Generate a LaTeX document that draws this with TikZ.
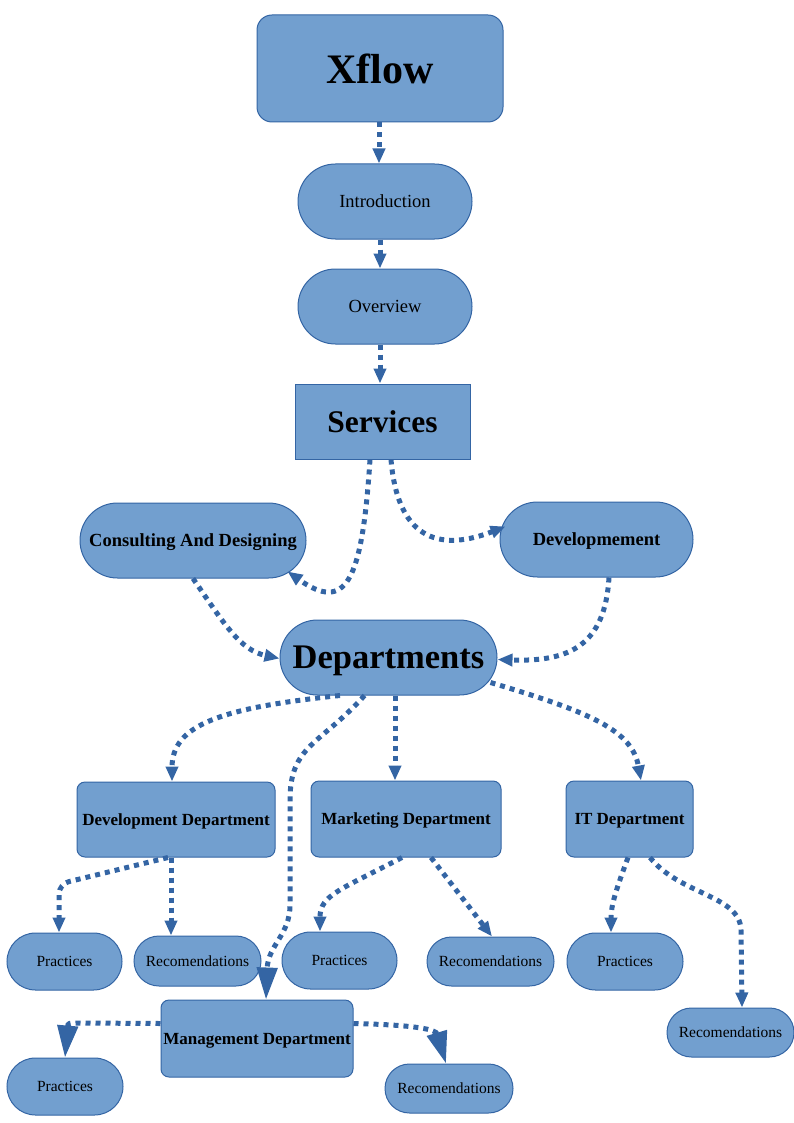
\documentclass[tikz,border=0pt]{standalone}
\usepackage{fontspec}
\setmainfont{Liberation Serif}
\usetikzlibrary{arrows.meta,shapes.misc,calc}
\definecolor{nfill}{HTML}{729FCF}
\definecolor{nline}{HTML}{3465A4}
\newcommand{\fs}[1]{\fontsize{#1}{#1}\selectfont}
\tikzset{
  base/.style={draw=nline, fill=nfill, line width=1pt, inner sep=0pt, text=black, text depth=0pt},
  stad/.style={base, rounded rectangle},
  rbox/.style={base, rectangle, rounded corners=8pt},
  sbox/.style={base, rectangle},
  arr/.style={draw=nline, line width=5pt, dash pattern=on 5pt off 5pt, line cap=butt,
              -{Triangle[length=15pt,width=12pt]}},
  bigarr/.style={arr, -{Triangle[length=32pt,width=20pt]}},
  small/.style={font=\fs{15.5}},
  mid/.style={font=\fs{18.5}},
  midb/.style={font=\fs{18.5}\bfseries},
  dep/.style={font=\fs{17}\bfseries},
}
\begin{document}
\begin{tikzpicture}[x=1pt,y=-1pt]
\useasboundingbox (0,0) rectangle (794,1123);
% nodes
\node[base, rounded corners=15pt, minimum width=246pt, minimum height=107pt, font=\fs{42}\bfseries] (xflow) at (380,68.5) {Xflow};
\node[stad, minimum width=174pt, minimum height=75pt, mid] (intro) at (385,201.5) {Introduction};
\node[stad, minimum width=174pt, minimum height=75pt, mid] (ov) at (385,306.5) {Overview};
\node[sbox, minimum width=175pt, minimum height=75pt, font=\fs{31.5}\bfseries] (svc) at (382.5,421.5) {Services};
\node[stad, minimum width=226pt, minimum height=75pt, midb] (cons) at (193,540.5) {Consulting And Designing};
\node[stad, minimum width=193pt, minimum height=75pt, midb] (devm) at (596.5,539.5) {Developmement};
\node[stad, minimum width=217pt, minimum height=75pt, font=\fs{34.5}\bfseries] (deps) at (388.5,657.5) {Departments};
\node[rbox, minimum width=198pt, minimum height=75pt, dep] (devd) at (176,819.5) {Development Department};
\node[rbox, minimum width=190pt, minimum height=76pt, dep] (mkt) at (406,819) {Marketing Department};
\node[rbox, minimum width=127pt, minimum height=76pt, dep] (itd) at (629.5,819) {IT Department};
\node[rbox, minimum width=192pt, minimum height=77pt, dep] (mgmt) at (257,1038.5) {Management Department};
\node[stad, minimum width=115pt, minimum height=57pt, small] (p1) at (64.5,961.5) {Practices};
\node[stad, minimum width=127pt, minimum height=50pt, small] (r1) at (197.5,961) {Recomendations};
\node[stad, minimum width=115pt, minimum height=57pt, small] (p2) at (339.5,960.5) {Practices};
\node[stad, minimum width=127pt, minimum height=49pt, small] (r2) at (490.5,961.5) {Recomendations};
\node[stad, minimum width=116pt, minimum height=57pt, small] (p3) at (625,961.5) {Practices};
\node[stad, minimum width=127pt, minimum height=49pt, small] (r3) at (730.5,1032.5) {Recomendations};
\node[stad, minimum width=116pt, minimum height=57pt, small] (p4) at (65,1086.5) {Practices};
\node[stad, minimum width=128pt, minimum height=49pt, small] (r4) at (449,1088.5) {Recomendations};
% connectors
\draw[arr] ([xshift=-1pt]xflow.south) -- ([xshift=-6pt]intro.north);
\draw[arr] ([xshift=-5pt]intro.south) -- ([xshift=-5pt]ov.north);
\draw[arr] ([xshift=-5pt]ov.south) -- ([xshift=-2.5pt]svc.north);
\draw[arr] ([xshift=-12.5pt]svc.south) .. controls (362,585) and (345,612) .. ([xshift=-19pt,yshift=-31pt]cons.east);
\draw[arr] ([xshift=8.5pt]svc.south) .. controls (398,545) and (445,550) .. ([xshift=6pt,yshift=13pt]devm.west);
\draw[arr] (cons.south) .. controls (225,625) and (240,650) .. ([yshift=-1pt]deps.west);
\draw[arr] ([xshift=12.5pt]devm.south) .. controls (605,645) and (570,662) .. ([yshift=-2pt]deps.east);
\draw[arr] ([xshift=-48.5pt]deps.south) .. controls (220,708) and (172,725) .. ([xshift=-4pt]devd.north);
\draw[bigarr] ([xshift=-24pt]deps.south) .. controls (320,745) and (290,745) .. (290,800) -- (290,905) .. controls (290,935) and (268,945) .. ([xshift=9pt]mgmt.north);
\draw[arr] ([xshift=6.5pt]deps.south) -- ([xshift=-11pt]mkt.north);
\draw[arr] ([xshift=-7pt,yshift=-25pt]deps.east) .. controls (590,712) and (632,730) .. ([xshift=11.5pt]itd.north);
\draw[arr, rounded corners=10pt] ([xshift=-8pt]devd.south) -- (59,884) -- ([xshift=-5.5pt]p1.north);
\draw[arr] ([xshift=-5pt]devd.south) -- ([xshift=-26.5pt]r1.north);
\draw[arr] ([xshift=-4pt]mkt.south) .. controls (340,890) and (320,895) .. ([xshift=-19.5pt]p2.north);
\draw[arr] ([xshift=25pt]mkt.south) -- ([xshift=1.5pt]r2.north);
\draw[arr] ([xshift=-1.5pt]itd.south) .. controls (616,890) and (611,905) .. ([xshift=-14pt]p3.north);
\draw[arr] ([xshift=20.5pt]itd.south) .. controls (680,895) and (740,895) .. (741,930) -- ([xshift=11.5pt]r3.north);
\draw[bigarr] ([yshift=15pt]mgmt.west) -- (80,1023) .. controls (68,1023) .. (p4.north);
\draw[bigarr] ([yshift=15pt]mgmt.east) .. controls (420,1025) and (436,1030) .. ([xshift=-3pt]r4.north);
\end{tikzpicture}
\end{document}
